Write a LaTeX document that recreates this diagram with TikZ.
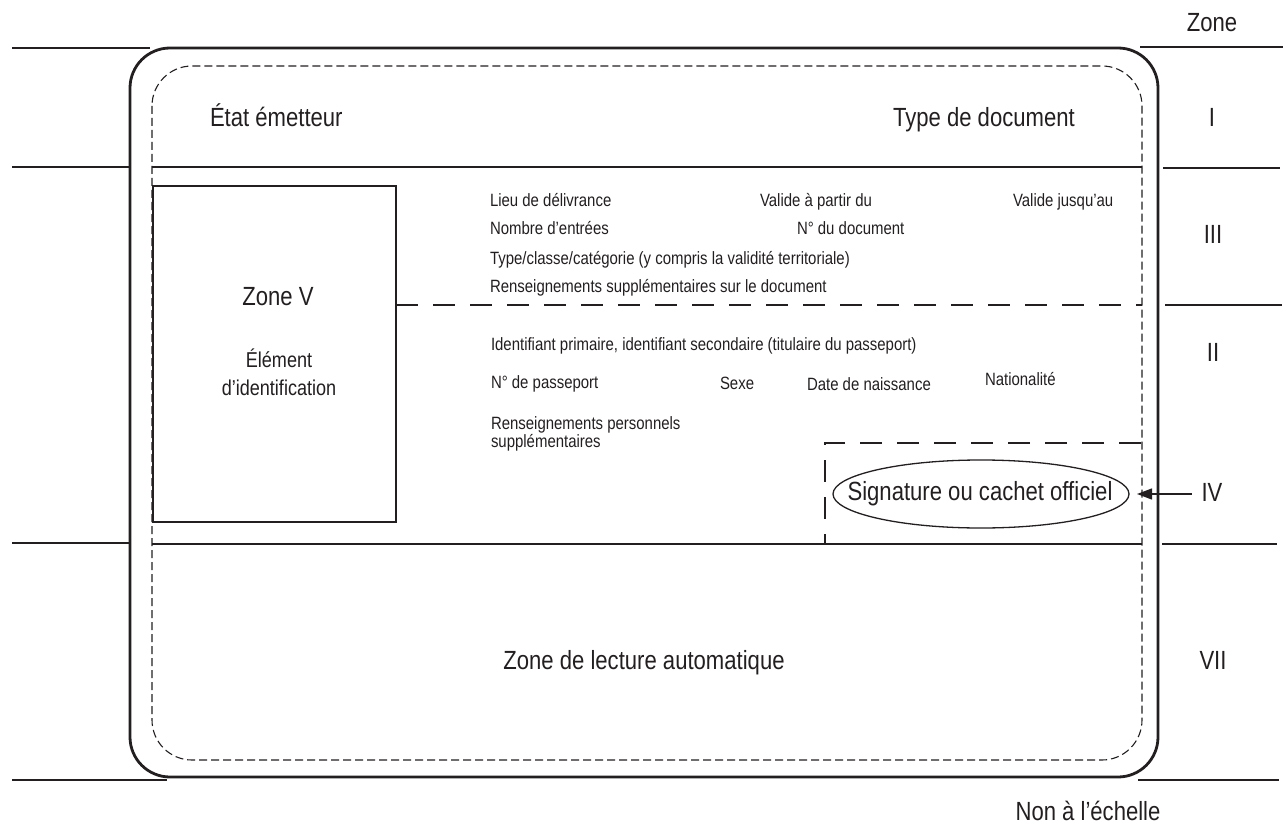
\documentclass[tikz,border=0pt]{standalone}
\usepackage{fontspec}
\setmainfont{Liberation Sans}[FakeStretch=0.84]
\usetikzlibrary{arrows.meta,shapes.geometric}
\definecolor{ink}{RGB}{35,31,32}
\begin{document}
\begin{tikzpicture}[x=1pt,y=-1pt,
  every node/.style={text=ink, inner sep=0pt, outer sep=0pt},
  rule/.style={draw=ink, line width=1.3pt},
  cardedge/.style={draw=ink, line width=2.8pt, rounded corners=40pt},
  cardzone/.style={draw=ink, line width=1.1pt, dash pattern=on 8pt off 4pt, rounded corners=40pt},
  heavydash/.style={draw=ink, line width=2.9pt, dash pattern=on 22pt off 15pt},
  big/.style={font=\fontsize{26.3}{30}\selectfont},
  mid/.style={font=\fontsize{21.5}{27}\selectfont},
  small/.style={font=\fontsize{17.8}{20}\selectfont},
  field/.style={small, anchor=base west},
  zonelabel/.style={big, anchor=base},
]
\useasboundingbox (0,0) rectangle (1283,824);

% card outline and inner printing area
\path[cardedge] (130,48) rectangle (1158,777);
\path[cardzone] (152,66) rectangle (1142,760);

% zone dividers inside the card
\path[rule] (152,167) -- (1142,167);
\path[rule] (152,544) -- (1142,544);

% dividers outside the card, left
\path[rule] (12,48) -- (150,48);
\path[rule] (12,167) -- (130,167);
\path[rule] (12,543) -- (130,543);
\path[rule] (12,780) -- (167,780);

% dividers outside the card, right
\path[rule] (1140,47) -- (1283,47);
\path[rule] (1163,168) -- (1280,168);
\path[rule] (1165,305) -- (1282,305);
\path[rule] (1162,544) -- (1277,544);
\path[rule] (1138,780) -- (1279,780);

% portrait area
\node[rule, fill=white, anchor=north west, minimum width=243pt, minimum height=336pt] (photo) at (153,186) {};
\node[big, anchor=base] (zonev) at (278,305) {Zone V};
\node[mid, anchor=base] (elem1) at (279,367) {Élément};
\node[mid, anchor=base] (elem2) at (279,395) {d’identification};

% boundary between zones III and II
\path[heavydash] (photo.east |- 0,305) -- (1142,305);

% signature area
\path[heavydash] (1141,443) -- (825,443) -- (825,543);
\node[rule, ellipse, minimum width=296pt, minimum height=68pt] (sigring) at (981,494) {};
\node[big, anchor=base] (sigtext) at (980,500) {Signature ou cachet officiel};

% zone I
\node[big, anchor=base west] (issuer) at (210,127) {État émetteur};
\node[big, anchor=base west] (doctype) at (893,127) {Type de document};

% zone III
\node[field] (f1) at (490,206) {Lieu de délivrance};
\node[field] (f2) at (760,206) {Valide à partir du};
\node[field] (f3) at (1013,206) {Valide jusqu’au};
\node[field] (f4) at (490,234) {Nombre d’entrées};
\node[field] (f5) at (797,234) {N° du document};
\node[field] (f6) at (490,264) {Type/classe/catégorie (y compris la validité territoriale)};
\node[field] (f7) at (490,292) {Renseignements supplémentaires sur le document};

% zone II
\node[field] (g1) at (491,350) {Identifiant primaire, identifiant secondaire (titulaire du passeport)};
\node[field] (g2) at (491,388) {N° de passeport};
\node[field] (g3) at (720,389) {Sexe};
\node[field] (g4) at (807,390) {Date de naissance};
\node[field] (g5) at (985,385) {Nationalité};
\node[field] (g6) at (491,429) {Renseignements personnels};
\node[field] (g7) at (491,447) {supplémentaires};

% zone VII
\node[big, anchor=base] (mrz) at (644,669) {Zone de lecture automatique};

% zone column on the right
\node[zonelabel] (zhead) at (1212,32) {Zone};
\node[zonelabel] (z1) at (1212,127) {I};
\node[zonelabel] (z3) at (1213,243) {III};
\node[zonelabel] (z2) at (1213,361) {II};
\node[zonelabel] (z4) at (1212,501) {IV};
\node[zonelabel] (z7) at (1213,669) {VII};
\draw[draw=ink, line width=1.3pt, -{Triangle[length=15pt,width=11pt]},
      shorten <=10pt, shorten >=8pt] (z4.west |- sigring) -- (sigring.east);

\node[big, anchor=base] (scale) at (1088,820) {Non à l’échelle};
\end{tikzpicture}
\end{document}
